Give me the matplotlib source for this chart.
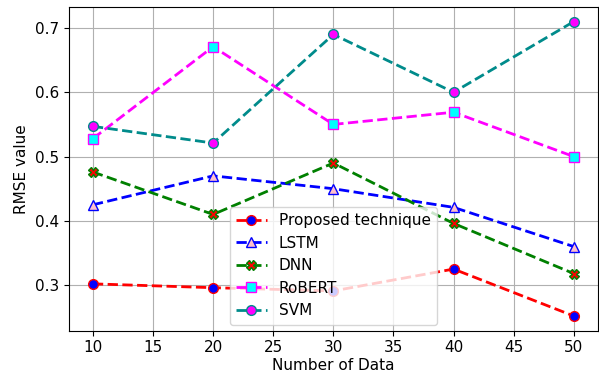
import matplotlib
matplotlib.use('Agg')
import matplotlib.pyplot as plt

num_data = [10, 20, 30, 40, 50]
proposed = [0.302, 0.296, 0.291, 0.325, 0.252]
lstm = [0.425, 0.470, 0.450, 0.421, 0.360]
dnn = [0.476, 0.410, 0.490, 0.396, 0.318]
robert = [0.528, 0.671, 0.550, 0.569, 0.500]
svm = [0.547, 0.521, 0.690, 0.600, 0.710]

plt.rcParams['font.size'] = 11

fig = plt.figure(figsize=(5.99, 3.81), dpi=100)
ax = fig.add_axes([0.115, 0.132, 0.883, 0.85])

ax.plot(num_data, proposed, '--o', color='red', mfc='blue', mec='red', lw=2, ms=7, label='Proposed technique')
ax.plot(num_data, lstm, '--^', color='blue', mfc='pink', mec='blue', lw=2, ms=7, label='LSTM')
ax.plot(num_data, dnn, '--X', color='green', mfc='red', mec='green', lw=2, ms=7, label='DNN')
ax.plot(num_data, robert, '--s', color='magenta', mfc='cyan', mec='magenta', lw=2, ms=7, label='RoBERT')
ax.plot(num_data, svm, '--o', color='darkcyan', mfc='magenta', mec='darkcyan', lw=2, ms=7, label='SVM')

ax.set_xlabel('Number of Data', labelpad=2)
ax.set_ylabel('RMSE value')
ax.grid(True)
ax.legend(loc='lower center', borderaxespad=0.4)

fig.savefig('out.png', dpi=100)
